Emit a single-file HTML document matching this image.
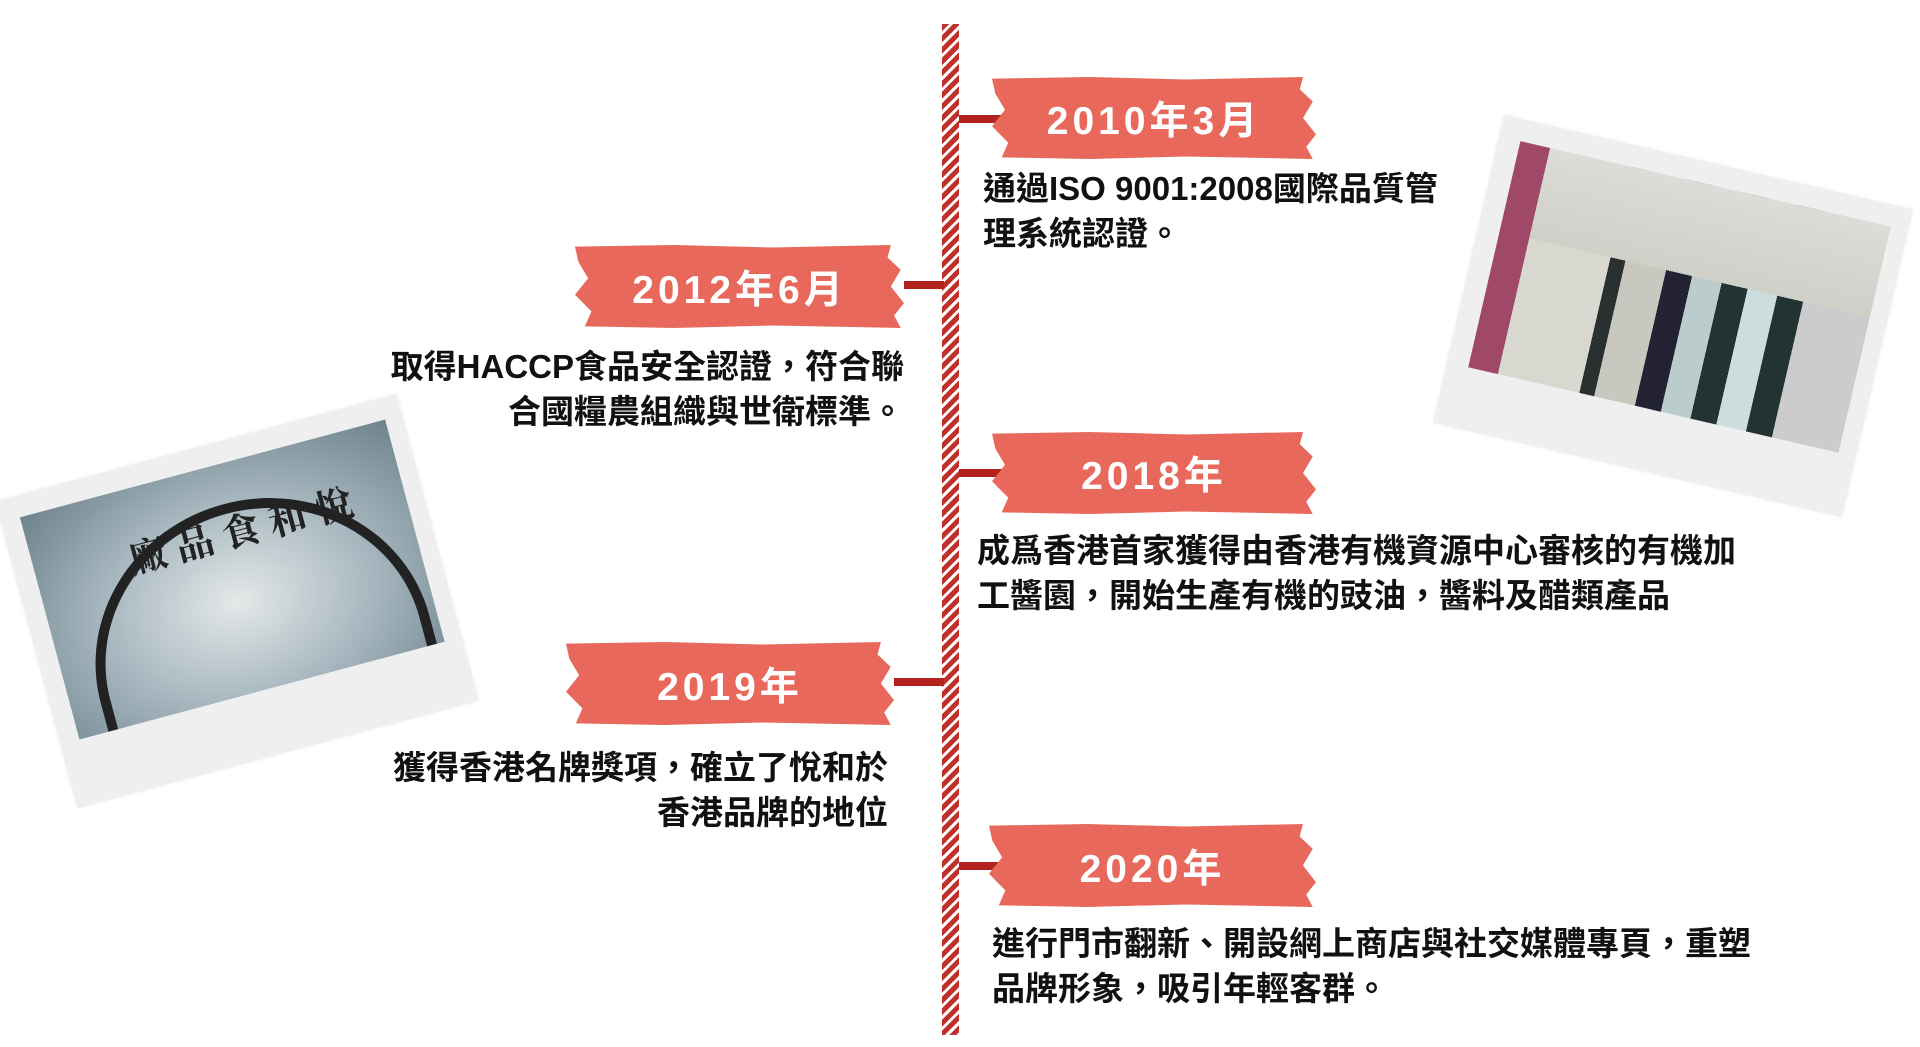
<!DOCTYPE html>
<html><head><meta charset="utf-8"><style>
body{margin:0;width:1920px;height:1047px;background:#fff;position:relative;overflow:hidden;font-family:"Liberation Sans","Noto Sans CJK TC",sans-serif;}
.line{position:absolute;left:942px;top:24px;width:17px;height:1011px;background:repeating-linear-gradient(135deg,#c0302b 0 5px,#fff 5px 8px);}
.conn{position:absolute;height:8px;background:#b3221f;}
.ban{position:absolute;background:#e8695c;color:#fff;font-weight:bold;font-size:39px;letter-spacing:4px;display:flex;align-items:center;justify-content:center;
clip-path:polygon(0 2%,30% 0,60% 3%,96% 0,95% 15%,99% 30%,96% 50%,100% 70%,97% 85%,99% 100%,60% 97%,30% 100%,3% 98%,5% 80%,0 60%,4% 40%,1% 20%);}
.t{position:absolute;font-weight:bold;font-size:33px;line-height:45px;color:#111;white-space:nowrap;}
.r{text-align:right;}
.pol{position:absolute;background:#efefef;box-shadow:0 0 4px rgba(0,0,0,.05);}
.ph{position:absolute;}
</style></head><body>
<div class="line"></div>

<div class="conn" style="left:959px;top:115px;width:45px"></div>
<div class="ban" style="left:992px;top:77px;width:324px;height:82px">2010年3月</div>
<div class="t" style="left:983px;top:166px">通過ISO 9001:2008國際品質管<br>理系統認證。</div>

<div class="conn" style="left:904px;top:281px;width:40px"></div>
<div class="ban" style="left:575px;top:245px;width:329px;height:83px">2012年6月</div>
<div class="t r" style="right:1016px;top:344px">取得HACCP食品安全認證，符合聯<br>合國糧農組織與世衛標準。</div>

<div class="conn" style="left:959px;top:469px;width:45px"></div>
<div class="ban" style="left:992px;top:432px;width:324px;height:82px">2018年</div>
<div class="t" style="left:977px;top:528px">成爲香港首家獲得由香港有機資源中心審核的有機加<br>工醬園，開始生產有機的豉油，醬料及醋類產品</div>

<div class="conn" style="left:894px;top:678px;width:50px"></div>
<div class="ban" style="left:566px;top:642px;width:328px;height:83px">2019年</div>
<div class="t r" style="right:1032px;top:745px">獲得香港名牌獎項，確立了悅和於<br>香港品牌的地位</div>

<div class="conn" style="left:959px;top:862px;width:45px"></div>
<div class="ban" style="left:989px;top:824px;width:327px;height:83px">2020年</div>
<div class="t" style="left:992px;top:921px">進行門市翻新、開設網上商店與社交媒體專頁，重塑<br>品牌形象，吸引年輕客群。</div>

<div class="pol" style="left:1463px;top:158px;width:420px;height:316px;transform:rotate(13deg)">
 <div class="ph" style="left:22px;top:22px;width:380px;height:232px;background:linear-gradient(90deg,#a04868 0 8%,transparent 8%),linear-gradient(180deg,#dcdcd8 0%,#cfd0c8 40%,transparent 40%),linear-gradient(90deg,#d8d8d0 0 30%,#2a3030 30% 34%,#c8c8c0 34% 45%,#223 45% 52%,#bcc 52% 60%,#233 60% 67%,#cdd 67% 75%,#233 75% 82%,#ccc 82%);"></div>
</div>

<div class="pol" style="left:29px;top:442px;width:416px;height:318px;transform:rotate(-15deg)">
 <div class="ph" style="left:20px;top:22px;width:378px;height:230px;background:radial-gradient(ellipse at 50% 60%,#e4e8e8 0%,#a8b8c0 50%,#6e838c 100%);overflow:hidden;">
  <div style="position:absolute;left:30px;top:40px;width:320px;height:300px;border:10px solid #222;border-radius:50% 50% 0 0;"></div>
  <div style="position:absolute;left:95px;top:40px;font-size:38px;font-weight:bold;color:#222;font-family:'Noto Serif CJK SC',serif;letter-spacing:10px">廠品食和悅</div>
 </div>
</div>
</body></html>
